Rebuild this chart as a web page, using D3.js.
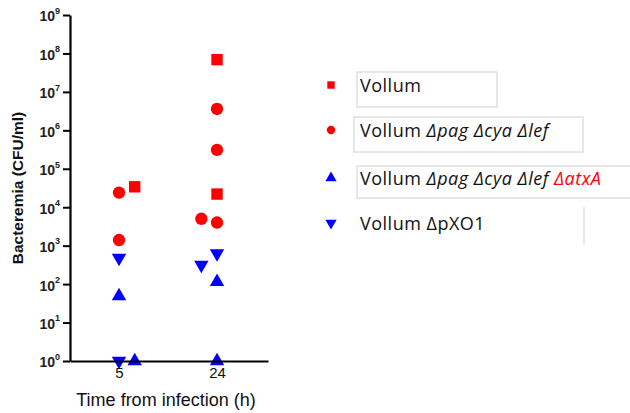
<meta charset="utf-8">
<style>body { margin: 0; }</style>
<svg width="630" height="413"></svg>
<script src="https://d3js.org/d3.v7.min.js"></script>
<script>
// data
var times = ["5", "24"];
var seriesNames = ["Vollum", "Vollum Δpag Δcya Δlef", "Vollum Δpag Δcya Δlef ΔatxA", "Vollum ΔpXO1"];
var seriesShapes = ["square", "circle", "triangleUp", "triangleDown"];
var seriesColors = ["#ff0000", "#ff0000", "#0000ff", "#0000ff"];
var vollum = [[3.4e4], [6.9e7, 2.2e4]];
var vollumPagCyaLef = [[2.4e4, 1.4e3], [3.6e6, 3.1e5, 4e3, 5e3]];
var vollumAtxA = [[49, 1], [115, 1]];
var vollumPXO1 = [[480, 1], [630, 316]];
var yExponents = [0, 1, 2, 3, 4, 5, 6, 7, 8, 9];
var highlight = ["ΔatxA"];

var svg = d3.select("svg"),
    width = +svg.attr("width"),
    height = +svg.attr("height");
svg.style("background", "#fff").style("font-family", "Liberation Sans, Arial, sans-serif");

var x = d3.scaleLinear().domain([-0.5, 1.52]).range([70, 268]);
var y = d3.scaleLog().domain([1, 1e9]).range([361, 15]);

var allSeries = [vollum, vollumPagCyaLef, vollumAtxA, vollumPXO1];
var symbolType = {
  square: d3.symbolSquare,
  circle: d3.symbolCircle,
  triangleUp: d3.symbolTriangle,
  triangleDown: d3.symbolTriangle
};

// simple beeswarm: a point that overlaps another in its lane moves over one lane
var points = [];
var placed = times.map(function() { return []; });
for (var s = allSeries.length - 1; s >= 0; s--) {
  allSeries[s].forEach(function(vals, ti) {
    vals.forEach(function(v) {
      var dir = ti === 0 ? 1 : -1, lane = 0;
      while (placed[ti].some(function(p) { return p.lane === lane && Math.abs(y(p.v) - y(v)) < 13; })) lane += dir;
      var p = { s: s, t: ti, v: v, lane: lane };
      placed[ti].push(p);
      points.push(p);
    });
  });
}

// marks
svg.append("g").selectAll("path")
  .data(points)
  .enter().append("path")
    .attr("transform", function(d) {
      var rot = seriesShapes[d.s] === "triangleDown" ? " rotate(180)" : "";
      return "translate(" + x(d.t + d.lane * 0.16) + "," + y(d.v) + ")" + rot;
    })
    .attr("d", function(d) {
      var size = seriesShapes[d.s] === "square" ? 130 : seriesShapes[d.s] === "circle" ? 120 : 90;
      return d3.symbol().type(symbolType[seriesShapes[d.s]]).size(size)();
    })
    .attr("fill", function(d) { return seriesColors[d.s]; });

// y axis
var yAxis = svg.append("g")
    .attr("transform", "translate(70,0)")
    .call(d3.axisLeft(y).tickValues(yExponents.map(function(e) { return Math.pow(10, e); }))
      .tickSize(7).tickSizeOuter(0).tickPadding(3).tickFormat(function() { return ""; }));
yAxis.select(".domain").attr("stroke-width", 2.2);
yAxis.selectAll(".tick line").attr("stroke-width", 2);
yAxis.selectAll(".tick text")
    .attr("font-size", 14).attr("font-weight", "bold").attr("fill", "#222").attr("dy", "0.42em")
    .each(function(d, i) {
      var t = d3.select(this);
      t.append("tspan").text("10");
      t.append("tspan").attr("font-size", 9).attr("dy", "-0.85em").text(yExponents[i]);
    });

// x axis
var xAxis = svg.append("g")
    .attr("transform", "translate(0,361)")
    .call(d3.axisBottom(x).tickValues([0, 1]).tickSize(0).tickSizeOuter(0).tickPadding(6)
      .tickFormat(function(d) { return times[d]; }));
xAxis.select(".domain").attr("stroke-width", 2.2);
xAxis.selectAll(".tick text").attr("font-size", 15).attr("fill", "#111");

svg.append("text")
    .attr("x", 166).attr("y", 406)
    .attr("text-anchor", "middle").attr("font-size", 18).attr("fill", "#111")
    .text("Time from infection (h)");

svg.append("text")
    .attr("transform", "translate(23,188) rotate(-90)")
    .attr("text-anchor", "middle").attr("font-size", 15.5).attr("font-weight", "bold").attr("fill", "#111")
    .text("Bacteremia (CFU/ml)");

// legend
var rowY = [85, 130, 178, 223];
var boxes = [[357, 72, 140, 35], [354, 117, 229, 35], [357, 166, 290, 32]];
svg.append("g").selectAll("rect")
  .data(boxes)
  .enter().append("rect")
    .attr("x", function(d) { return d[0]; }).attr("y", function(d) { return d[1]; })
    .attr("width", function(d) { return d[2]; }).attr("height", function(d) { return d[3]; })
    .attr("fill", "none").attr("stroke", "#e0e0e0").attr("stroke-width", 1.5);
svg.append("line")
    .attr("x1", 584).attr("x2", 584).attr("y1", 207).attr("y2", 245)
    .attr("stroke", "#e0e0e0").attr("stroke-width", 1.5);

var legend = svg.append("g").selectAll("g")
  .data(seriesNames)
  .enter().append("g")
    .attr("transform", function(d, i) { return "translate(0," + rowY[i] + ")"; });

legend.append("path")
    .attr("transform", function(d, i) {
      return "translate(331,0)" + (seriesShapes[i] === "triangleDown" ? " rotate(180)" : "");
    })
    .attr("d", function(d, i) { return d3.symbol().type(symbolType[seriesShapes[i]]).size(55)(); })
    .attr("fill", function(d, i) { return seriesColors[i]; });

legend.append("text")
    .attr("x", 360).attr("dy", "0.38em")
    .attr("font-family", "Open Sans, sans-serif").attr("font-size", 18).attr("letter-spacing", 0.5)
    .attr("fill", "#111")
    .each(function(name) {
      var t = d3.select(this);
      name.split(" ").forEach(function(word, k) {
        var span = t.append("tspan").text((k ? " " : "") + word);
        if (/^Δ[a-z][a-zA-Z]*$/.test(word)) span.attr("font-style", "italic");
        if (highlight.indexOf(word) >= 0) span.attr("fill", "#ff0000");
      });
    });
</script>
